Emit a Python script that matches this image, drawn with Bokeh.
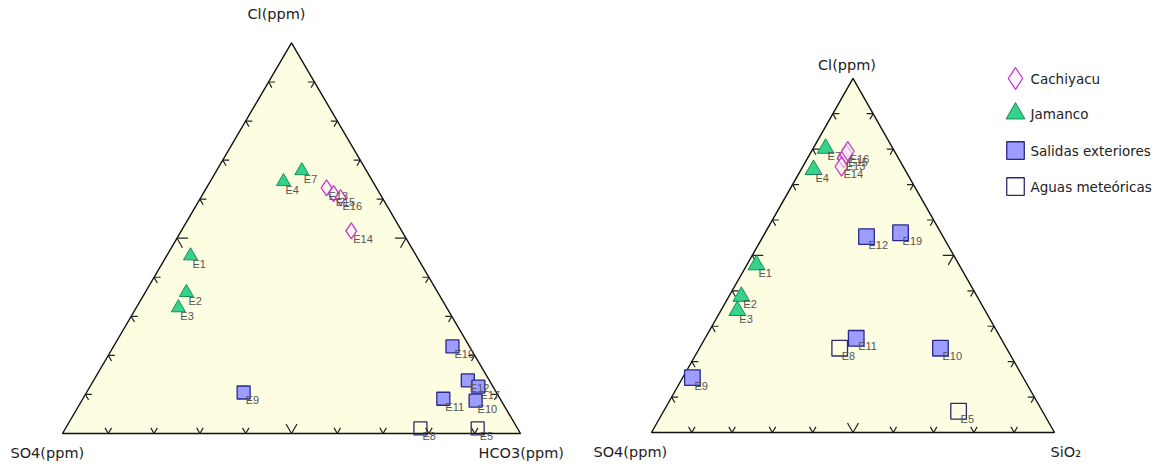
import math
from bokeh.plotting import figure
from bokeh.layouts import row
from bokeh.models import ColumnDataSource, Label
from bokeh.core.properties import value
from bokeh.embed import file_html
from bokeh.resources import INLINE

S3 = math.sqrt(3) / 2

# ---------------- data (percent of the three components) ----------------
# Left diagram: SO4 - HCO3 - Cl
L_names = ["E1", "E2", "E3", "E4", "E7", "E13", "E15", "E16", "E14",
           "E19", "E12", "E17", "E11", "E10", "E9", "E8", "E5"]
L_groups = ["Jamanco", "Jamanco", "Jamanco", "Jamanco", "Jamanco",
            "Cachiyacu", "Cachiyacu", "Cachiyacu", "Cachiyacu",
            "Salidas", "Salidas", "Salidas", "Salidas", "Salidas", "Salidas",
            "Meteoricas", "Meteoricas"]
L_so4 = [49.3, 54.9, 58.6, 19.5, 14.1, 10.9, 10.1, 9.1, 11.0,
         3.7, 4.7, 3.2, 12.4, 5.6, 55.2, 21.2, 8.7]
L_hco3 = [5.2, 9.0, 9.2, 16.0, 18.6, 26.2, 28.5, 30.5, 37.1,
          74.0, 81.7, 84.8, 78.7, 86.0, 34.3, 77.5, 90.0]
L_cl = [45.5, 36.1, 32.2, 64.5, 67.3, 62.9, 61.4, 60.4, 51.9,
        22.3, 13.6, 12.0, 8.9, 8.4, 10.5, 1.3, 1.3]

# Right diagram: SO4 - SiO2 - Cl
R_names = ["E1", "E2", "E3", "E4", "E7", "E13", "E15", "E16", "E14",
           "E12", "E19", "E11", "E10", "E9", "E8", "E5"]
R_groups = ["Jamanco", "Jamanco", "Jamanco", "Jamanco", "Jamanco",
            "Cachiyacu", "Cachiyacu", "Cachiyacu", "Cachiyacu",
            "Salidas", "Salidas", "Salidas", "Salidas", "Salidas",
            "Meteoricas", "Meteoricas"]
R_so4 = [50.3, 58.5, 61.5, 22.7, 16.7, 13.6, 12.4, 11.6, 15.3,
         19.0, 10.0, 35.9, 16.4, 82.1, 41.4, 20.8]
R_sio2 = [2.4, 3.1, 4.1, 3.1, 3.1, 9.0, 9.1, 9.0, 9.6,
          25.7, 33.6, 37.5, 59.8, 2.4, 34.8, 73.2]
R_cl = [47.3, 38.4, 34.4, 74.2, 80.2, 77.4, 78.5, 79.4, 75.1,
        55.3, 56.4, 26.6, 23.8, 15.5, 23.8, 6.0]

tick_fracs = [0.1, 0.2, 0.3, 0.4, 0.5, 0.6, 0.7, 0.8, 0.9]
legend_labels = ["Cachiyacu", "Jamanco", "Salidas exteriores", "Aguas meteóricas"]
legend_groups = ["Cachiyacu", "Jamanco", "Salidas", "Meteoricas"]

STYLE = {
    "Cachiyacu": dict(marker="diamond", size=16, fill_color="#fbeefb", fill_alpha=0.6,
                      line_color="#c23cc8", line_width=1.3),
    "Jamanco": dict(marker="triangle", size=14, fill_color="#36d28c", fill_alpha=1.0,
                    line_color="#12905a", line_width=1.0),
    "Salidas": dict(marker="square", size=13, fill_color="#9d9dff", fill_alpha=1.0,
                    line_color="#28288a", line_width=1.3),
    "Meteoricas": dict(marker="square", size=13, fill_color=None, fill_alpha=0.0,
                       line_color="#2a2a6a", line_width=1.3),
}

FONT = "DejaVu Sans"
H = 462


def styled(g, k):
    s = dict(STYLE[g])
    s["size"] = s["size"] * k
    return s


def to_xy(a, b, c):
    xs, ys = [], []
    for ai, bi, ci in zip(a, b, c):
        t = ai + bi + ci
        xs.append((bi + ci / 2) / t)
        ys.append(ci * S3 / t)
    return xs, ys


def panel(width, height, sx, sy, left_px, bottom_px):
    x0 = -left_px / sx
    y0 = -bottom_px / sy
    p = figure(width=width, height=height, x_range=(x0, x0 + width / sx),
               y_range=(y0, y0 + height / sy), output_backend="svg",
               toolbar_location=None, min_border=0)
    p.axis.visible = False
    p.grid.visible = False
    p.outline_line_color = None
    p.background_fill_color = "white"
    p.border_fill_color = "white"
    p.patch([0, 1, 0.5], [0, 0, S3], fill_color="#fdfde1", line_color="#111111", line_width=1.4)
    xs, ys = [], []
    for f in tick_fracs:
        L = 11 if abs(f - 0.5) < 1e-9 else 6.5
        pts = [
            ((f, 0.0), 60, 120),
            ((f * 0.5, f * S3), 0, -60),
            ((1 - f * 0.5, f * S3), 180, 240),
        ]
        for (px, py), a1, a2 in pts:
            r1, r2 = math.radians(a1), math.radians(a2)
            xs.append([px + L * math.cos(r1) / sx, px, px + L * math.cos(r2) / sx])
            ys.append([py + L * math.sin(r1) / sy, py, py + L * math.sin(r2) / sy])
    p.multi_line(xs, ys, line_color="#222222", line_width=1.2)
    return p


def draw_points(p, names, groups, a, b, c, k):
    xs, ys = to_xy(a, b, c)
    for g in ["Salidas", "Meteoricas", "Jamanco", "Cachiyacu"]:
        idx = [i for i, gg in enumerate(groups) if gg == g]
        src = ColumnDataSource(dict(x=[xs[i] for i in idx], y=[ys[i] for i in idx],
                                    name=[names[i] for i in idx]))
        p.scatter("x", "y", source=src, **styled(g, k))
        p.text("x", "y", text="name", source=src, x_offset=2, y_offset=8,
               text_font=value("Liberation Sans"), text_font_size="11px",
               text_color="#555555", text_align="left", text_baseline="middle")


def corner_label(p, x, y, text, dx, dy, align="left", size="14.5px"):
    p.add_layout(Label(x=x, y=y, x_offset=dx, y_offset=dy, text=text,
                       text_font=FONT, text_font_size=size, text_color="#222222",
                       text_align=align, text_baseline="middle"))


# ---------------- left panel ----------------
LW = 579
left = panel(LW, H, 458.0, 451.0, 62, H - 433)
draw_points(left, L_names, L_groups, L_so4, L_hco3, L_cl, 1.0)
corner_label(left, 0, 0, "SO4(ppm)", -52, -19)
corner_label(left, 1, 0, "HCO3(ppm)", -42, -19)
corner_label(left, 0.5, S3, "Cl(ppm)", -15, 29, align="center")

# ---------------- right panel ----------------
RW = 579
RSX, RSY = 403.0, 409.0
R_LEFT, R_BOTTOM = 651 - LW, H - 432
right = panel(RW, H, RSX, RSY, R_LEFT, R_BOTTOM)
draw_points(right, R_names, R_groups, R_so4, R_sio2, R_cl, 1.2)
corner_label(right, 0, 0, "SO4(ppm)", -58, -19)
corner_label(right, 1, 0, "SiO₂", -4, -19)
corner_label(right, 0.5, S3, "Cl(ppm)", -6, 13, align="center")

# legend (layout positions in panel pixels)
leg_px_x = 1015 - LW
leg_px_y = [78, 113, 150, 186]


def px_to_data(px, py):
    return (px - R_LEFT) / RSX, (H - py - R_BOTTOM) / RSY


for lab, g, py in zip(legend_labels, legend_groups, leg_px_y):
    mx, my = px_to_data(leg_px_x, py)
    right.scatter([mx], [my], **styled(g, 1.35))
    tx, ty = px_to_data(leg_px_x + 15, py)
    right.add_layout(Label(x=tx, y=ty, text=lab, text_font=FONT, text_font_size="13.5px",
                           text_color="#222222", text_baseline="middle"))

layout = row(left, right)
open("out.html", "w").write(file_html(layout, INLINE))
